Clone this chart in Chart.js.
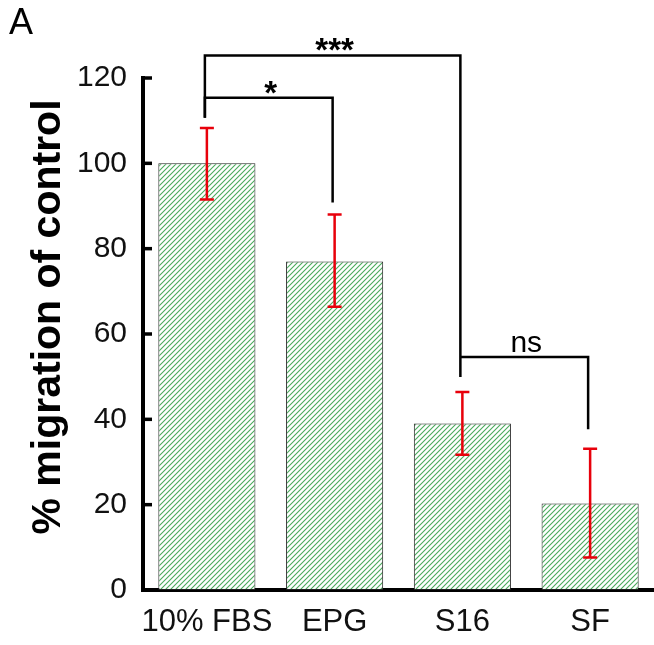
<!DOCTYPE html>
<html>
<head>
<meta charset="utf-8">
<script src="https://cdn.jsdelivr.net/npm/chart.js@4"></script>
<style>
  html, body { margin: 0; padding: 0; background: #fff; }
  #wrap { width: 654px; height: 645px; }
</style>
</head>
<body>
<div id="wrap"><canvas id="migrationChart" width="654" height="645"></canvas></div>
<script>
const categories = ["10% FBS", "EPG", "S16", "SF"];
const migration = [100, 77, 39, 20.3];
const errUpper = [108.3, 88, 46.4, 33.1];
const errLower = [91.5, 66.4, 31.7, 7.6];
const yTicks = [0, 20, 40, 60, 80, 100, 120];

// significance brackets: bar indices, bracket height, leg ends (all in % units)
const bracketFrom = [0, 0, 2];
const bracketTo = [1, 2, 3];
const bracketTop = [115.4, 125.3, 54.6];
const bracketStart = [110.7, 110.7, 54.6];
const bracketEnd = [90.8, 49.9, 37.7];
const bracketLabels = ["*", "***", "ns"];

const FONT = "'Liberation Sans', Arial, sans-serif";

function hatchPattern() {
  const s = 5;
  const c = document.createElement("canvas");
  c.width = s; c.height = s;
  const g = c.getContext("2d");
  g.fillStyle = "#ffffff";
  g.fillRect(0, 0, s, s);
  g.strokeStyle = "#4aab5c";
  g.lineWidth = 1.1;
  g.beginPath();
  g.moveTo(0, s); g.lineTo(s, 0);
  g.moveTo(-1, 1); g.lineTo(1, -1);
  g.moveTo(s - 1, s + 1); g.lineTo(s + 1, s - 1);
  g.stroke();
  return g.createPattern(c, "repeat");
}

const extras = {
  id: "extras",
  afterDatasetsDraw(chart) {
    const { ctx, chartArea } = chart;
    const y = chart.scales.y;
    const bars = chart.getDatasetMeta(0).data;

    // inward tick marks
    ctx.save();
    ctx.strokeStyle = "#000";
    ctx.lineWidth = 3.5;
    yTicks.forEach((v) => {
      const py = y.getPixelForValue(v);
      ctx.beginPath();
      ctx.moveTo(chartArea.left, py);
      ctx.lineTo(chartArea.left + 9, py);
      ctx.stroke();
    });

    // error bars
    ctx.strokeStyle = "#e8000b";
    ctx.lineWidth = 2.5;
    bars.forEach((bar, i) => {
      const top = y.getPixelForValue(errUpper[i]);
      const bot = y.getPixelForValue(errLower[i]);
      ctx.beginPath();
      ctx.moveTo(bar.x, top); ctx.lineTo(bar.x, bot);
      ctx.moveTo(bar.x - 7, top); ctx.lineTo(bar.x + 7, top);
      ctx.moveTo(bar.x - 7, bot); ctx.lineTo(bar.x + 7, bot);
      ctx.stroke();
    });

    // brackets
    ctx.strokeStyle = "#000";
    ctx.fillStyle = "#000";
    ctx.lineWidth = 2.5;
    ctx.textAlign = "center";
    ctx.textBaseline = "alphabetic";
    bracketLabels.forEach((label, k) => {
      const x1 = bars[bracketFrom[k]].x - 2;
      const x2 = bars[bracketTo[k]].x - 2;
      const yt = y.getPixelForValue(bracketTop[k]);
      ctx.beginPath();
      ctx.moveTo(x1, y.getPixelForValue(bracketStart[k]));
      ctx.lineTo(x1, yt);
      ctx.lineTo(x2, yt);
      ctx.lineTo(x2, y.getPixelForValue(bracketEnd[k]));
      ctx.stroke();
      const isStar = label.startsWith("*");
      ctx.font = isStar ? `bold 33px ${FONT}` : `30px ${FONT}`;
      ctx.fillText(label, (x1 + x2) / 2 + 2, isStar ? yt + 6 : yt - 5);
    });
    ctx.restore();
  },
  afterDraw(chart) {
    const { ctx } = chart;
    ctx.save();
    ctx.fillStyle = "#000";
    ctx.font = `36px ${FONT}`;
    ctx.textAlign = "left";
    ctx.textBaseline = "alphabetic";
    ctx.fillText("A", 9, 34);

    ctx.translate(49, 317);
    ctx.rotate(-Math.PI / 2);
    ctx.font = `bold 41px ${FONT}`;
    ctx.textAlign = "center";
    ctx.textBaseline = "middle";
    ctx.fillText("% migration of control", 0, 0);
    ctx.restore();
  }
};

new Chart(document.getElementById("migrationChart"), {
  type: "bar",
  data: {
    labels: categories,
    datasets: [{
      data: migration,
      backgroundColor: hatchPattern(),
      borderColor: "#222222",
      borderWidth: 1,
      borderSkipped: false,
      barPercentage: 0.76,
      categoryPercentage: 1
    }]
  },
  options: {
    responsive: false,
    animation: false,
    layout: { padding: { top: 78, left: 0, right: 0, bottom: 0 } },
    plugins: { legend: { display: false }, tooltip: { enabled: false } },
    scales: {
      x: {
        grid: { display: false, drawTicks: false },
        border: { display: true, color: "#000", width: 4 },
        ticks: {
          color: "#111", font: { family: FONT, size: 31 }, padding: 14,
          maxRotation: 0, minRotation: 0, autoSkip: false
        },
        afterFit(scale) { scale.height = 55; }
      },
      y: {
        min: 0,
        max: 120,
        afterBuildTicks(scale) { scale.ticks = yTicks.map((v) => ({ value: v })); },
        grid: { display: false, drawTicks: false },
        border: { display: true, color: "#000", width: 4 },
        ticks: { color: "#111", font: { family: FONT, size: 30 }, padding: 16 },
        afterFit(scale) { scale.width = 143; }
      }
    }
  },
  plugins: [extras]
});
</script>
</body>
</html>
